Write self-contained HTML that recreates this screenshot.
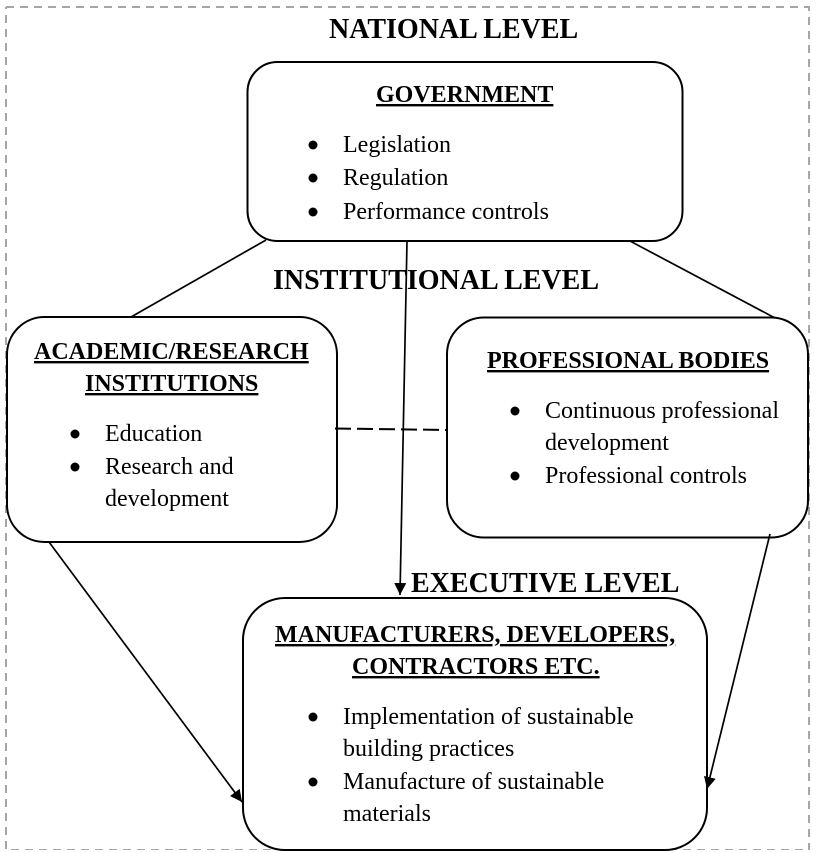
<!DOCTYPE html>
<html>
<head>
<meta charset="utf-8">
<style>
html,body{margin:0;padding:0;background:#fff;}
svg{display:block;}
text{font-family:"Liberation Serif",serif;fill:#000;}
.h{font-size:28px;font-weight:bold;}
.t{font-size:24px;font-weight:bold;text-decoration:underline;}
.b{font-size:24px;}
</style>
</head>
<body>
<svg width="817" height="853" viewBox="0 0 817 853" xmlns="http://www.w3.org/2000/svg">
<defs>
<marker id="a" markerWidth="13" markerHeight="13" refX="12" refY="6" orient="auto" markerUnits="userSpaceOnUse"><path d="M0,0 L12,6 L0,12 Z" fill="#000"/></marker>
</defs>

<line x1="6" y1="7" x2="810" y2="7" stroke="#a6a6a6" stroke-width="2" stroke-dasharray="8 6"/>
<line x1="6" y1="7" x2="6" y2="850" stroke="#a6a6a6" stroke-width="2" stroke-dasharray="8 6" stroke-dashoffset="6"/>
<line x1="809" y1="7" x2="809" y2="850" stroke="#a6a6a6" stroke-width="2" stroke-dasharray="8 6" stroke-dashoffset="4"/>
<line x1="11" y1="849.500" x2="810" y2="849.500" stroke="#a6a6a6" stroke-width="1" stroke-dasharray="8 6"/>

<rect x="247.500" y="62" width="435" height="179" rx="30" fill="#fff" stroke="#000" stroke-width="2"/>
<rect x="7" y="317" width="330" height="225" rx="37.500" fill="#fff" stroke="#000" stroke-width="2"/>
<rect x="447" y="317.500" width="361" height="220" rx="37" fill="#fff" stroke="#000" stroke-width="2"/>
<rect x="243" y="598" width="464" height="252" rx="42" fill="#fff" stroke="#000" stroke-width="2"/>

<line x1="266" y1="240" x2="131" y2="317" stroke="#000" stroke-width="1.700"/>
<line x1="630" y1="241" x2="775" y2="318" stroke="#000" stroke-width="1.700"/>
<line x1="407" y1="241" x2="400" y2="595" stroke="#000" stroke-width="1.700" marker-end="url(#a)"/>
<line x1="49" y1="542" x2="242" y2="802" stroke="#000" stroke-width="1.700" marker-end="url(#a)"/>
<line x1="770" y1="534" x2="707" y2="789" stroke="#000" stroke-width="1.700" marker-end="url(#a)"/>
<line x1="335" y1="428.500" x2="447" y2="430" stroke="#000" stroke-width="2" stroke-dasharray="16 6"/>

<text class="h" x="329" y="38">NATIONAL LEVEL</text>
<text class="h" x="273" y="289">INSTITUTIONAL LEVEL</text>
<text class="h" x="411" y="592">EXECUTIVE LEVEL</text>

<text class="t" x="376" y="102">GOVERNMENT</text>
<circle cx="313" cy="145" r="4.500"/>
<circle cx="313" cy="178" r="4.500"/>
<circle cx="313" cy="212" r="4.500"/>
<text class="b" x="343" y="152">Legislation</text>
<text class="b" x="343" y="185">Regulation</text>
<text class="b" x="343" y="219">Performance controls</text>

<text class="t" x="34" y="359">ACADEMIC/RESEARCH</text>
<text class="t" x="85" y="391">INSTITUTIONS</text>
<circle cx="75" cy="434" r="4.500"/>
<circle cx="75" cy="467" r="4.500"/>
<text class="b" x="105" y="441">Education</text>
<text class="b" x="105" y="474">Research and</text>
<text class="b" x="105" y="506">development</text>

<text class="t" x="487" y="368">PROFESSIONAL BODIES</text>
<circle cx="515" cy="411" r="4.500"/>
<circle cx="515" cy="476" r="4.500"/>
<text class="b" x="545" y="418">Continuous professional</text>
<text class="b" x="545" y="450">development</text>
<text class="b" x="545" y="483">Professional controls</text>

<text class="t" x="275" y="642">MANUFACTURERS, DEVELOPERS,</text>
<text class="t" x="352" y="674">CONTRACTORS ETC.</text>
<circle cx="313" cy="717" r="4.500"/>
<circle cx="313" cy="782" r="4.500"/>
<text class="b" x="343" y="724">Implementation of sustainable</text>
<text class="b" x="343" y="756">building practices</text>
<text class="b" x="343" y="789">Manufacture of sustainable</text>
<text class="b" x="343" y="821">materials</text>
</svg>
</body>
</html>
